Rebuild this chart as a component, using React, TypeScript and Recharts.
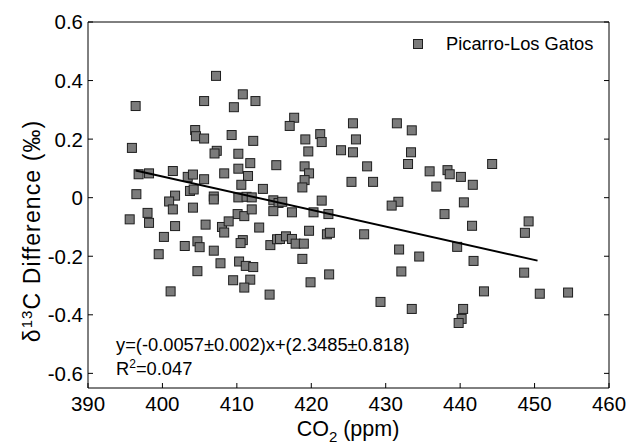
import React from 'react';
import { ScatterChart, Scatter, XAxis, YAxis, Legend } from 'recharts';

const co2: number[] = [
  407.2, 396.4, 405.6, 410.8, 412.5, 409.6, 404.4, 404.5, 405.6, 409.3,
  412.2, 395.9, 407.3, 407.0, 410.2, 411.8, 415.3, 396.8, 398.2, 401.4,
  403.4, 404.1, 405.6, 408.3, 410.2, 411.5, 410.6, 413.5, 396.5, 401.7,
  403.7, 404.2, 406.9, 406.9, 410.2, 411.3, 412.0, 400.9, 414.9, 415.6,
  417.7, 417.1, 425.6, 431.5, 433.5, 419.2, 421.2, 421.4, 426.0, 419.6,
  424.0, 425.6, 433.4, 433.0, 419.1, 419.7, 419.1, 418.8, 427.5, 425.4,
  428.3, 435.9, 438.3, 438.6, 436.8, 416.1, 421.4, 431.7, 430.8, 440.1,
  441.7, 444.3, 440.5, 401.4, 404.1, 395.6, 398.0, 398.2, 401.7, 405.8,
  410.1, 411.0, 412.0, 414.9, 408.0, 408.9, 408.3, 413.0, 400.2, 399.5,
  403.0, 404.7, 405.0, 406.9, 410.8, 410.5, 414.5, 415.4, 407.8, 410.3,
  411.2, 412.2, 404.7, 409.5, 411.8, 411.0, 401.1, 414.4, 417.4, 420.3,
  422.3, 437.9, 415.8, 416.6, 417.4, 417.9, 419.0, 419.7, 422.1, 422.5,
  427.1, 418.8, 419.9, 422.4, 431.8, 434.5, 432.1, 429.3, 433.5, 441.6,
  449.2, 448.7, 439.6, 441.8, 448.6, 443.2, 450.7, 454.5, 440.4, 440.2,
  439.8,
];

const delta13C: number[] = [
  0.416, 0.313, 0.33, 0.353, 0.33, 0.309, 0.231, 0.21, 0.202, 0.214,
  0.194, 0.17, 0.16, 0.151, 0.15, 0.118, 0.111, 0.08, 0.083, 0.091,
  0.071, 0.079, 0.063, 0.083, 0.099, 0.074, 0.044, 0.03, 0.012, 0.007,
  0.023, 0.028, 0.004, -0.006, 0.001, 0.003, 0.001, -0.013, -0.009, -0.018,
  0.273, 0.245, 0.254, 0.254, 0.23, 0.199, 0.217, 0.19, 0.199, 0.158,
  0.162, 0.155, 0.155, 0.115, 0.107, 0.083, 0.06, 0.035, 0.107, 0.054,
  0.054, 0.09, 0.094, 0.08, 0.038, -0.014, -0.01, -0.014, -0.027, 0.071,
  0.044, 0.115, -0.016, -0.04, -0.034, -0.074, -0.052, -0.086, -0.097, -0.092,
  -0.056, -0.063, -0.04, -0.046, -0.1, -0.081, -0.119, -0.102, -0.134, -0.193,
  -0.165, -0.149, -0.169, -0.181, -0.145, -0.155, -0.162, -0.142, -0.224, -0.218,
  -0.233, -0.237, -0.251, -0.282, -0.28, -0.307, -0.32, -0.331, -0.05, -0.05,
  -0.056, -0.056, -0.141, -0.132, -0.141, -0.157, -0.157, -0.113, -0.125, -0.12,
  -0.125, -0.209, -0.289, -0.262, -0.177, -0.201, -0.252, -0.356, -0.38, -0.096,
  -0.081, -0.12, -0.168, -0.216, -0.256, -0.32, -0.328, -0.324, -0.38, -0.414,
  -0.428,
];

const fitCo2: number[] = [396.4, 450.4];
const fitDelta: number[] = [0.093, -0.215];

const xTicks: number[] = [390, 400, 410, 420, 430, 440, 450, 460];
const yTicks: number[] = [-0.6, -0.4, -0.2, 0, 0.2, 0.4, 0.6];
const xDomain: [number, number] = [390, 460];
const yDomain: [number, number] = [-0.65, 0.6];

const seriesName = 'Picarro-Los Gatos';
const equationText = 'y=(-0.0057±0.002)x+(2.3485±0.818)';
const r2Value = '=0.047';

const points = co2.map((x, i) => ({ x, y: delta13C[i] }));
const fitPoints = fitCo2.map((x, i) => ({ x, y: fitDelta[i] }));

const FONT = 'Arial, "Liberation Sans", Helvetica, sans-serif';
const TICK = 5;

const BottomTick = (p: any) => (
  <g>
    <line x1={p.x} x2={p.x} y1={p.y} y2={p.y - TICK} stroke="#000" strokeWidth={1} />
    <text x={p.x} y={p.y + 23} textAnchor="middle" fontSize={20.5} fontFamily={FONT} fill="#000">
      {String(p.payload.value)}
    </text>
  </g>
);
const TopTick = (p: any) => (
  <line x1={p.x} x2={p.x} y1={p.y} y2={p.y + TICK} stroke="#000" strokeWidth={1} />
);
const LeftTick = (p: any) => (
  <g>
    <line x1={p.x} x2={p.x + TICK} y1={p.y} y2={p.y} stroke="#000" strokeWidth={1} />
    <text x={p.x - 5} y={p.y} dy="0.36em" textAnchor="end" fontSize={20.5} fontFamily={FONT} fill="#000">
      {String(p.payload.value)}
    </text>
  </g>
);
const RightTick = (p: any) => (
  <line x1={p.x} x2={p.x - TICK} y1={p.y} y2={p.y} stroke="#000" strokeWidth={1} />
);

const Square = (p: any) => {
  if (p.cx == null || p.cy == null) return <g />;
  return (
    <rect x={p.cx - 4.5} y={p.cy - 4.5} width={9} height={9} fill="#7b7b7b" stroke="#1e1e1e" strokeWidth={1} />
  );
};
const NoShape = () => <g />;

const LegendContent = () => (
  <div style={{ display: 'flex', alignItems: 'center', fontFamily: FONT, fontSize: 18.3, color: '#000', whiteSpace: 'nowrap' }}>
    <svg width={12} height={12} style={{ marginRight: 22 }}>
      <rect x={1.5} y={1.5} width={9} height={9} fill="#7b7b7b" stroke="#1e1e1e" strokeWidth={1} />
    </svg>
    <span>{seriesName}</span>
  </div>
);

export default function App() {
  return (
    <div style={{ position: 'absolute', left: 0, top: 0, width: 630, height: 445, background: '#fff' }}>
      <ScatterChart width={630} height={445} margin={{ top: 21, right: 20, bottom: 7, left: 10 }}>
        <XAxis
          xAxisId="b" dataKey="x" type="number" orientation="bottom" domain={xDomain} ticks={xTicks}
          allowDataOverflow height={50} tickSize={0} tickMargin={0} tickLine={false}
          axisLine={{ stroke: '#000', strokeWidth: 1 }} tick={BottomTick} interval={0}
        />
        <XAxis
          xAxisId="t" type="number" orientation="top" domain={xDomain} ticks={xTicks}
          allowDataOverflow height={1} tickSize={0} tickMargin={0} tickLine={false}
          axisLine={{ stroke: '#000', strokeWidth: 1 }} tick={TopTick} interval={0}
        />
        <YAxis
          yAxisId="l" dataKey="y" type="number" orientation="left" domain={yDomain} ticks={yTicks}
          allowDataOverflow width={78} tickSize={0} tickMargin={0} tickLine={false}
          axisLine={{ stroke: '#000', strokeWidth: 1 }} tick={LeftTick} interval={0}
        />
        <YAxis
          yAxisId="r" type="number" orientation="right" domain={yDomain} ticks={yTicks}
          allowDataOverflow width={1} tickSize={0} tickMargin={0} tickLine={false}
          axisLine={{ stroke: '#000', strokeWidth: 1 }} tick={RightTick} interval={0}
        />
        <Legend
          layout="horizontal" verticalAlign="middle" align="center"
          content={LegendContent}
          wrapperStyle={{ position: 'absolute', left: 412, top: 33, width: 210, height: 24 }}
        />
        <Scatter
          name={seriesName} data={points} xAxisId="b" yAxisId="l"
          shape={Square} isAnimationActive={false}
        />
        <Scatter
          name="fit" data={fitPoints} xAxisId="b" yAxisId="l" legendType="none"
          line={{ stroke: '#000', strokeWidth: 2 }} shape={NoShape} isAnimationActive={false}
        />
      </ScatterChart>
      <svg width={630} height={445} style={{ position: 'absolute', left: 0, top: 0, pointerEvents: 'none' }}>
        <text
          x={32} y={231} transform="rotate(-90 32 231)" textAnchor="middle" dy="0.36em"
          fontSize={23} letterSpacing={1.1} fontFamily={FONT} fill="#000"
        >
          δ<tspan fontSize={15} dy={-8}>13</tspan><tspan dy={8}>C Difference (‰)</tspan>
        </text>
        <text x={348} y={436} textAnchor="middle" fontSize={21.5} fontFamily={FONT} fill="#000">
          CO<tspan fontSize={15} dy={6}>2</tspan><tspan dy={-6}> (ppm)</tspan>
        </text>
        <text x={116} y={351} fontSize={18.3} fontFamily={FONT} fill="#000">{equationText}</text>
        <text x={116} y={375} fontSize={18.3} fontFamily={FONT} fill="#000">
          R<tspan fontSize={12} dy={-7}>2</tspan><tspan dy={7}>{r2Value}</tspan>
        </text>
      </svg>
    </div>
  );
}
